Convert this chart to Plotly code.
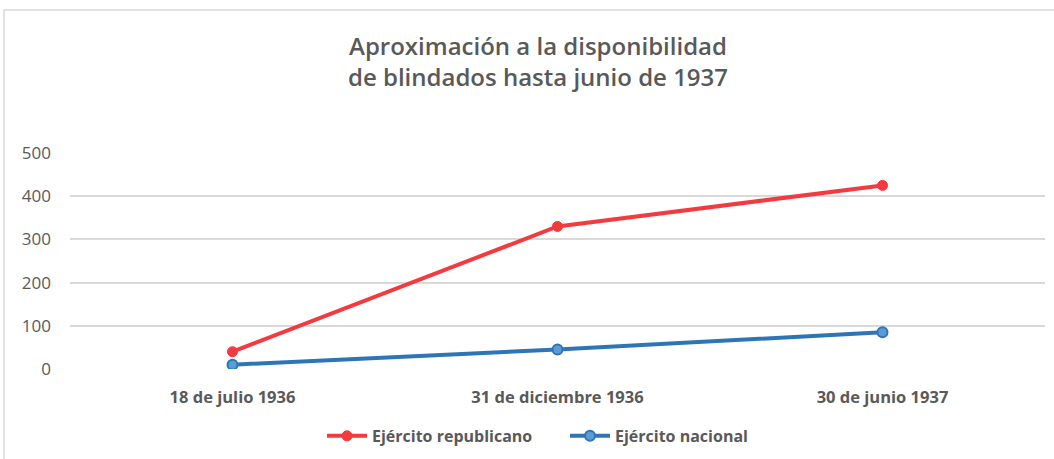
import plotly.graph_objects as go

# Armoured vehicle availability, July 1936 - June 1937
fechas = ["18 de julio 1936", "31 de diciembre 1936", "30 de junio 1937"]
republicano = [40, 330, 425]
nacional = [10, 45, 85]
y_ticks = [0, 100, 200, 300, 400, 500]

titulo = "Aproximación a la disponibilidad<br>de blindados hasta junio de 1937"

GRIS = "#595959"
ROJO = "#F23A3F"
AZUL = "#2E75B6"
FUENTE = "Open Sans"

fig = go.Figure()
fig.add_trace(go.Scatter(
    x=fechas, y=republicano, name="Ejército republicano",
    mode="lines+markers",
    line=dict(color=ROJO, width=4),
    marker=dict(symbol="circle", size=10, color=ROJO, line=dict(color=ROJO, width=1)),
))
fig.add_trace(go.Scatter(
    x=fechas, y=nacional, name="Ejército nacional",
    mode="lines+markers",
    line=dict(color=AZUL, width=4),
    marker=dict(symbol="circle", size=10, color="#5B9BD5", line=dict(color=AZUL, width=2)),
))

fig.update_layout(
    width=1054, height=459,
    margin=dict(l=70, r=9, t=153, b=90, autoexpand=False),
    paper_bgcolor="white", plot_bgcolor="white",
    font=dict(family=FUENTE, color=GRIS, size=14),
    title=dict(
        text=titulo, x=538 / 1054, xanchor="center", xref="container",
        y=1 - 55 / 459, yanchor="middle", yref="container",
        font=dict(family=FUENTE, size=24, color=GRIS, weight=600),
    ),
    xaxis=dict(
        type="category", showgrid=False, zeroline=False, showline=False,
        ticks="", tickfont=dict(size=16.5, color=GRIS, weight="bold"),
        range=[-0.5, 2.5], ticklabelstandoff=16, tickangle=0,
    ),
    yaxis=dict(
        range=[0, 500], tickvals=y_ticks, showgrid=True, gridcolor="#D9D9D9",
        gridwidth=1.5, zeroline=False, showline=False, ticks="",
        tickfont=dict(size=17, color=GRIS), ticklabelstandoff=18,
    ),
    legend=dict(
        orientation="h", x=(322 - 70) / 975, xanchor="left",
        y=-0.31, yanchor="middle",
        font=dict(size=16, color=GRIS, weight="bold"), itemwidth=40,
        entrywidth=188, entrywidthmode="pixels", tracegroupgap=0,
    ),
    showlegend=True,
    shapes=[dict(
        type="rect", xref="paper", yref="paper",
        x0=(4 - 70) / 975, x1=1.2, y0=-0.5, y1=(369 - 10) / 216,
        line=dict(color="#D9D9D9", width=1.5), fillcolor="rgba(0,0,0,0)",
        layer="below",
    )],
)

fig.write_html("out.html")
